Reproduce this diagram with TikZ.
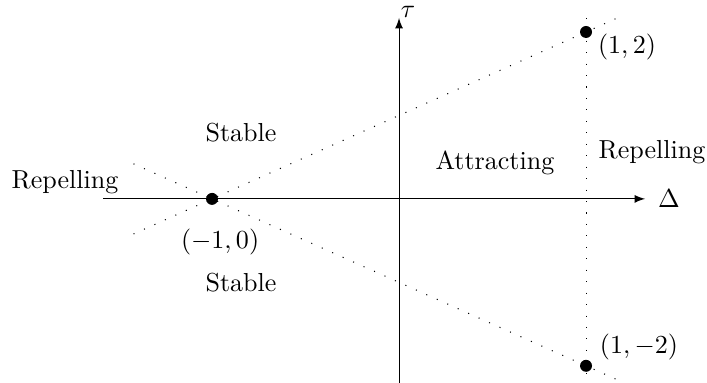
\documentclass[tikz,border=0pt]{standalone}

\tikzset{
    dot/.style={circle,fill=black,inner sep=0pt,minimum size=4.6pt},
    border/.style={loosely dotted},
}

\begin{document}
\begin{tikzpicture}[x=2.525cm,y=1.127cm,>=latex]
    \useasboundingbox (-2.134,-2.204) rectangle (1.647,2.383);
    % axes
    \coordinate (xmin) at (-1.583,0);
    \coordinate (xmax) at (1.316,0);
    \coordinate (ymin) at (0,-2.204);
    \coordinate (ymax) at (0,2.168);
    \draw[->] (xmin) -- (xmax);
    \draw[->] (ymin) -- (ymax);
    \node (dlabel) at (1.444,0) {$\Delta$};
    \node[inner sep=1pt] (tlabel) at (.048,2.235) {$\tau$};
    % boundaries tau = +-(Delta+1) and Delta = 1
    \coordinate (ua) at (-1.42,-.42);
    \coordinate (ub) at (1.166,2.166);
    \coordinate (la) at (-1.42,.42);
    \coordinate (lb) at (1.166,-2.166);
    \coordinate (va) at (1,2.17);
    \coordinate (vb) at (1,-2.204);
    \draw[border] (ua) -- (ub);
    \draw[border] (la) -- (lb);
    \draw[border] (va) -- (vb);
    \node[dot] (pm) at (-1,0) {};
    \node[dot] (pu) at (1,2) {};
    \node[dot] (pd) at (1,-2) {};
    \node (lpm) at (-.957,-.515) {$(-1,0)$};
    \node (lpu) at (1.219,1.82) {$(1,2)$};
    \node (lpd) at (1.283,-1.77) {$(1,-2)$};
    % regions
    \node (stu) at (-.845,.79) {Stable};
    \node (std) at (-.845,-1.006) {Stable};
    \node (repl) at (-1.786,.2) {Repelling};
    \node (attr) at (.513,.43) {Attracting};
    \node (repr) at (1.353,.563) {Repelling};
\end{tikzpicture}
\end{document}
